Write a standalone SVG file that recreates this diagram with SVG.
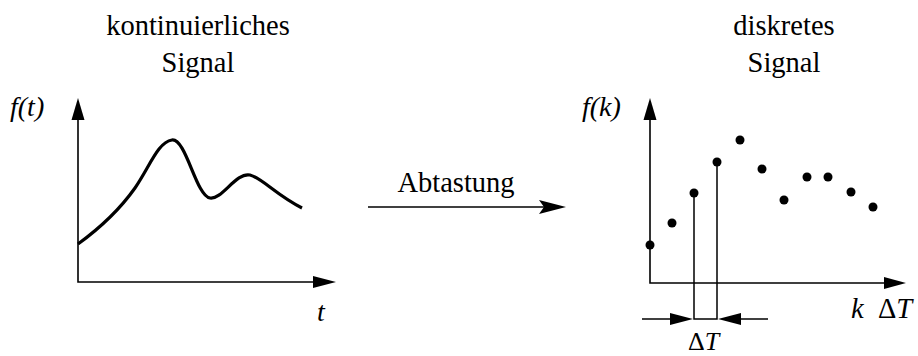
<svg xmlns="http://www.w3.org/2000/svg" width="918" height="356" viewBox="0 0 918 356">
<style>
text{font-family:"Liberation Serif","Times New Roman",serif;fill:#000}
.t{font-size:28.5px}
.it{font-size:28px;font-style:italic}
.i{font-style:italic}
.ax{stroke:#000;stroke-width:1.6;fill:none}
.thin{stroke:#000;stroke-width:1.5;fill:none}
.ah{fill:#000}
.dot{fill:#000}
</style>
<rect width="918" height="356" fill="#fff"/>
<g id="left-plot">
<text class="t" x="198" y="35" text-anchor="middle">kontinuierliches</text>
<text class="t" x="198" y="72" text-anchor="middle">Signal</text>
<text class="it" x="10" y="116">f(t)</text>
<text class="it" x="317" y="321">t</text>
<path class="ax" d="M78,118 V282 H315"/>
<polygon class="ah" points="78,98 71.5,120 84.5,120"/>
<polygon class="ah" points="336,282 313,276 313,288"/>
<path d="M78,244 C100,228 118,212 135,188 C150,166 158,142 172,140 C186,138 196,196 210,198 C222,200 236,172 250,175 C262,178 276,195 302,208" fill="none" stroke="#000" stroke-width="3.2"/>
</g>
<g id="connectors">
<line class="ax" x1="368" y1="207" x2="545" y2="207" stroke-width="2"/>
<polygon class="ah" points="566,207 539,200 544,207 539,214"/>
<text class="t" x="456" y="192" text-anchor="middle">Abtastung</text>
</g>
<g id="right-plot">
<text class="t" x="784" y="35" text-anchor="middle">diskretes</text>
<text class="t" x="784" y="72" text-anchor="middle">Signal</text>
<text class="it" x="582" y="116">f(k)</text>
<text class="t" x="851" y="318"><tspan class="i">k</tspan><tspan x="878">Δ</tspan><tspan class="i">T</tspan></text>
<path class="ax" d="M650,118 V283 H886"/>
<polygon class="ah" points="650,98 643.5,120 656.5,120"/>
<polygon class="ah" points="906,283 884,277 884,289"/>
<path class="thin" d="M694,193 V319 H717 V162"/>
<line class="thin" x1="642" y1="319" x2="672" y2="319"/>
<polygon class="ah" points="693,319 670,313 670,325"/>
<line class="thin" x1="740" y1="319" x2="768" y2="319"/>
<polygon class="ah" points="718,319 741,313 741,325"/>
<text x="688" y="350" font-size="26">Δ<tspan class="i">T</tspan></text>
<circle class="dot" cx="650" cy="245" r="4.5"/>
<circle class="dot" cx="672" cy="223" r="4.5"/>
<circle class="dot" cx="694" cy="193" r="4.5"/>
<circle class="dot" cx="717" cy="162" r="4.5"/>
<circle class="dot" cx="740" cy="140" r="4.5"/>
<circle class="dot" cx="762" cy="169" r="4.5"/>
<circle class="dot" cx="784" cy="200" r="4.5"/>
<circle class="dot" cx="807" cy="177" r="4.5"/>
<circle class="dot" cx="828" cy="177" r="4.5"/>
<circle class="dot" cx="851" cy="192" r="4.5"/>
<circle class="dot" cx="873" cy="207" r="4.5"/>
</g>
</svg>
